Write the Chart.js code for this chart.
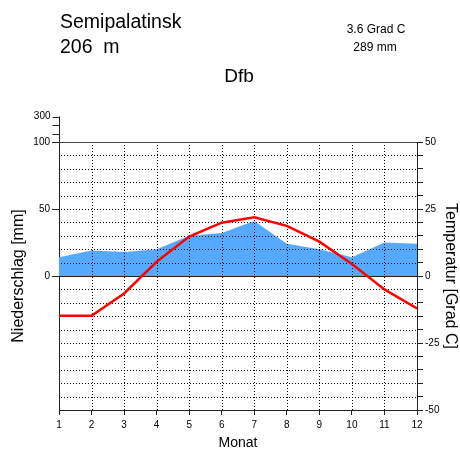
<!DOCTYPE html>
<html><head><meta charset="utf-8">
<script src="https://cdn.jsdelivr.net/npm/chart.js@4/dist/chart.umd.min.js"></script>
<style>html,body{margin:0;padding:0;background:#fff;}#wrap{width:460px;height:450px;}</style>
</head><body><div id="wrap"><canvas id="c" width="460" height="450"></canvas></div>
<script>
const months = [1,2,3,4,5,6,7,8,9,10,11,12];
const precipitation = [14,19,18,20,30,32,41,24,20,14,25,24];
const temperature = [-14.8,-14.8,-6.5,5.3,14.7,19.9,21.9,18.7,12.8,4.5,-5.0,-12.1];
const precipTickValues = [0,50,100];
const precipExtraLabel = '300';
const stationName = 'Semipalatinsk';
const stationElevation = '206  m';
const meanTemperature = '3.6 Grad C';
const annualPrecipitation = '289 mm';
const climateClass = 'Dfb';

const FONT = 'Liberation Sans, Arial, Helvetica, sans-serif';
const AXIS = '#222';

const gridPlugin = {
  id: 'climGrid',
  beforeDatasetDraw(chart, args) {
    if (args.index !== 1) return;
    const {ctx, chartArea: a, scales: {x, yT, yP}} = chart;
    ctx.save();
    ctx.strokeStyle = '#000';
    ctx.lineWidth = 1;
    ctx.setLineDash([1, 2]);
    for (let v = -45; v <= 45; v += 5) {
      if (v === 0) continue;
      const y = Math.round(yT.getPixelForValue(v)) + 0.5;
      ctx.beginPath(); ctx.moveTo(a.left + 2, y); ctx.lineTo(a.right, y); ctx.stroke();
    }
    for (const m of months) {
      if (m === months[0] || m === months[months.length - 1]) continue;
      const px = Math.round(x.getPixelForValue(m)) + 0.5;
      ctx.beginPath(); ctx.moveTo(px, a.top); ctx.lineTo(px, a.bottom); ctx.stroke();
    }
    ctx.setLineDash([]);
    ctx.strokeStyle = AXIS;
    const y0 = Math.round(yP.getPixelForValue(0)) + 0.5;
    ctx.beginPath(); ctx.moveTo(a.left, y0); ctx.lineTo(a.right, y0); ctx.stroke();
    ctx.strokeStyle = '#444';
    const yTop = Math.round(yP.getPixelForValue(100)) + 0.5;
    ctx.beginPath(); ctx.moveTo(a.left, yTop); ctx.lineTo(a.right, yTop); ctx.stroke();
    ctx.restore();
  },
  afterDraw(chart) {
    const {ctx, chartArea: a, scales: {yP}} = chart;
    ctx.save();
    const yTop = Math.round(yP.getPixelForValue(100)) + 0.5;
    const ext = 26;
    const lx = Math.round(a.left) + 0.5;
    ctx.strokeStyle = AXIS; ctx.lineWidth = 1;
    ctx.beginPath(); ctx.moveTo(lx, yTop); ctx.lineTo(lx, yTop - ext); ctx.stroke();
    for (let i = 1; i <= 3; i++) {
      const yy = Math.round(yTop - ext * i / 3) + 0.5;
      ctx.beginPath(); ctx.moveTo(lx - 7, yy); ctx.lineTo(lx, yy); ctx.stroke();
    }
    ctx.fillStyle = '#000';
    ctx.font = '10px ' + FONT;
    ctx.textAlign = 'right'; ctx.textBaseline = 'middle';
    ctx.fillText(precipExtraLabel, lx - 9, yTop - ext);
    ctx.textBaseline = 'alphabetic';
    ctx.textAlign = 'left';
    ctx.font = '19.5px ' + FONT;
    ctx.fillText(stationName, 60, 28);
    ctx.fillText(stationElevation, 60, 53);
    ctx.textAlign = 'center';
    ctx.font = '19px ' + FONT;
    ctx.fillText(climateClass, 239, 82);
    ctx.font = '12px ' + FONT;
    ctx.fillText(meanTemperature, 376, 33);
    ctx.fillText(annualPrecipitation, 375, 51);
    ctx.restore();
  }
};

new Chart(document.getElementById('c'), {
  type: 'line',
  data: {
    datasets: [
      {
        label: 'Niederschlag',
        data: months.map((m, i) => ({x: m, y: precipitation[i]})),
        yAxisID: 'yP',
        order: 2,
        fill: 'origin',
        backgroundColor: '#55aaff',
        borderWidth: 0,
        borderColor: 'rgba(0,0,0,0)',
        pointRadius: 0,
        tension: 0
      },
      {
        label: 'Temperatur',
        data: months.map((m, i) => ({x: m, y: temperature[i]})),
        yAxisID: 'yT',
        order: 1,
        fill: false,
        borderColor: '#ff0000',
        borderWidth: 2.5,
        pointRadius: 0,
        tension: 0
      }
    ]
  },
  options: {
    responsive: false,
    animation: false,
    devicePixelRatio: 1,
    layout: {padding: {top: 142, left: 0, right: 0, bottom: 0}},
    plugins: {legend: {display: false}, tooltip: {enabled: false}, title: {display: false}},
    scales: {
      x: {
        type: 'linear', min: 1, max: 12,
        afterFit(s) { s.height = 40; },
        ticks: {stepSize: 1, color: '#000', font: {size: 10, family: FONT}, padding: 4, autoSkip: false},
        grid: {drawOnChartArea: false, drawTicks: true, tickLength: 5, color: AXIS},
        border: {display: true, color: AXIS, width: 1},
        title: {display: true, text: 'Monat', color: '#000', font: {size: 14, family: FONT, lineHeight: 1}, padding: {top: 0, bottom: 0}}
      },
      yP: {
        type: 'linear', position: 'left', min: -100, max: 100,
        afterFit(s) { s.width = 59; },
        afterBuildTicks(s) { s.ticks = precipTickValues.map(v => ({value: v})); },
        ticks: {color: '#000', font: {size: 10, family: FONT}, padding: 2, autoSkip: false},
        grid: {drawOnChartArea: false, drawTicks: true, tickLength: 7, color: AXIS},
        border: {display: true, color: AXIS, width: 1},
        title: {display: true, text: 'Niederschlag [mm]', color: '#000', font: {size: 16, family: FONT}, padding: {top: 9, bottom: 0}}
      },
      yT: {
        type: 'linear', position: 'right', min: -50, max: 50,
        afterFit(s) { s.width = 43; },
        ticks: {stepSize: 5, color: '#000', font: {size: 10, family: FONT}, padding: 2, autoSkip: false,
          callback: v => (v % 25 === 0 ? String(v) : '')},
        grid: {drawOnChartArea: false, drawTicks: true, tickLength: 6, color: AXIS},
        border: {display: true, color: AXIS, width: 1},
        title: {display: true, text: 'Temperatur [Grad C]', color: '#000', font: {size: 16, family: FONT}, padding: {top: 0, bottom: 0}}
      }
    }
  },
  plugins: [gridPlugin]
});
</script>
</body></html>
